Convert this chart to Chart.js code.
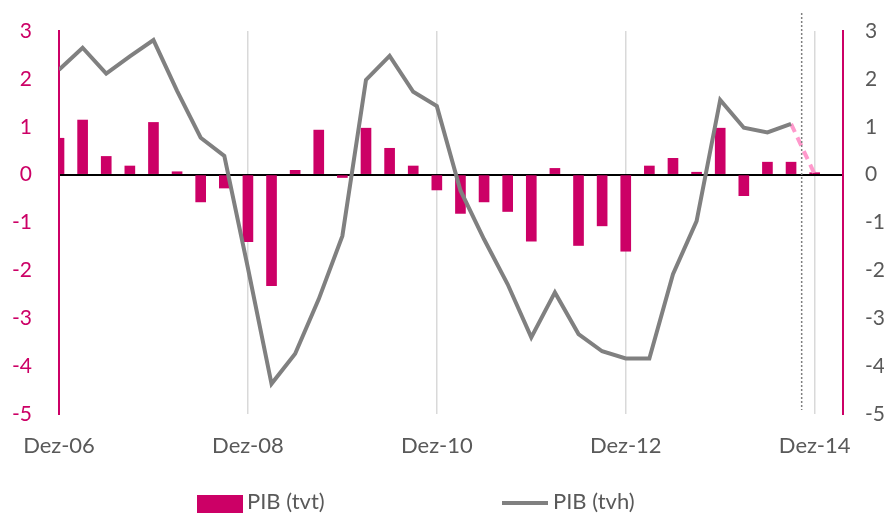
<!DOCTYPE html>
<html lang="pt">

<head>
    <meta charset="UTF-8">
    <title>PIB</title>
    <style>
        body { margin: 0; background: #fff; }
        #wrap { position: relative; width: 884px; height: 513px; overflow: hidden; font-family: Lato, sans-serif; color: #595959; }
        .leg { position: absolute; font-size: 22px; line-height: 22px; white-space: nowrap; }
    </style>
</head>

<body>
    <div id="wrap">
        <canvas id="pib-chart" width="884" height="513"></canvas>
        <div class="leg" style="left:197px; top:495px; width:46px; height:18px; background:#cc0066;"></div>
        <div class="leg" style="left:247px; top:490px;">PIB (tvt)</div>
        <div class="leg" style="left:502px; top:501px; width:46px; height:4px; background:#808080;"></div>
        <div class="leg" style="left:553px; top:490px;">PIB (tvh)</div>
    </div>

    <script src="https://cdn.jsdelivr.net/npm/chart.js@4.4.1/dist/chart.umd.min.js"></script>

    <script>
        // trimestres, Dez-06 .. Dez-14
        const quarters = ['Dez-06', 'Mar-07', 'Jun-07', 'Set-07', 'Dez-07', 'Mar-08', 'Jun-08', 'Set-08',
            'Dez-08', 'Mar-09', 'Jun-09', 'Set-09', 'Dez-09', 'Mar-10', 'Jun-10', 'Set-10',
            'Dez-10', 'Mar-11', 'Jun-11', 'Set-11', 'Dez-11', 'Mar-12', 'Jun-12', 'Set-12',
            'Dez-12', 'Mar-13', 'Jun-13', 'Set-13', 'Dez-13', 'Mar-14', 'Jun-14', 'Set-14', 'Dez-14'];

        // variação em cadeia (barras)
        const pibTvt = [0.76, 1.14, 0.38, 0.18, 1.09, 0.06, -0.57, -0.28,
            -1.40, -2.32, 0.09, 0.93, -0.06, 0.97, 0.55, 0.18,
            -0.32, -0.81, -0.57, -0.77, -1.39, 0.13, -1.48, -1.07,
            -1.60, 0.18, 0.34, 0.05, 0.97, -0.44, 0.26, 0.26, 0.04];

        // variação homóloga (linha), até Set-14
        const pibTvh = [2.19, 2.65, 2.11, 2.47, 2.81, 1.75, 0.77, 0.39,
            -1.95, -4.37, -3.74, -2.60, -1.28, 1.98, 2.48, 1.73,
            1.43, -0.33, -1.35, -2.29, -3.40, -2.46, -3.33, -3.69,
            -3.84, -3.84, -2.08, -0.97, 1.56, 0.98, 0.88, 1.06];

        // projecção tracejada Set-14 -> Dez-14
        const pibTvhProj = [1.06, 0.01];

        const yTicks = [-5, -4, -3, -2, -1, 0, 1, 2, 3];
        const xTickEvery = 8;

        const pink = '#cc0066';
        const grey = '#595959';

        const projStart = pibTvh.length - 1;

        // linha vertical pontilhada entre Set-14 e Dez-14
        const dottedLine = {
            id: 'dottedLine',
            afterDatasetsDraw(chart) {
                const ctx = chart.ctx;
                const x = chart.scales.x.getPixelForValue(projStart + 0.45);
                ctx.save();
                ctx.strokeStyle = '#7f7f7f';
                ctx.lineWidth = 1.5;
                ctx.setLineDash([2, 2]);
                ctx.beginPath();
                ctx.moveTo(x, 13);
                ctx.lineTo(x, chart.chartArea.bottom - 4);
                ctx.stroke();
                ctx.restore();
            }
        };

        const tickFont = { family: 'Lato', size: 21 };

        // largura fixa dos eixos verticais, sem margem extra em cima/baixo
        const fixWidth = w => s => { s.width = w; s.paddingTop = 0; s.paddingBottom = 0; };

        new Chart(document.getElementById('pib-chart'), {
            type: 'bar',
            data: {
                datasets: [
                    {
                        type: 'line',
                        label: 'PIB (tvh)',
                        data: pibTvh.map((v, i) => ({ x: i, y: v })),
                        borderColor: '#808080',
                        borderWidth: 4,
                        pointRadius: 0,
                        tension: 0,
                        order: 0
                    },
                    {
                        type: 'line',
                        label: 'proj',
                        data: pibTvhProj.map((v, i) => ({ x: projStart + i, y: v })),
                        borderColor: '#ff99cc',
                        borderWidth: 4,
                        borderDash: [9, 6],
                        pointRadius: 0,
                        order: 0
                    },
                    {
                        label: 'PIB (tvt)',
                        data: pibTvt.map((v, i) => ({ x: i, y: v })),
                        backgroundColor: pink,
                        barThickness: 10,
                        order: 1
                    }
                ]
            },
            options: {
                responsive: false,
                animation: false,
                devicePixelRatio: 1,
                layout: { padding: { top: 31, left: 0, right: 0, bottom: 0 } },
                plugins: { legend: { display: false }, tooltip: { enabled: false } },
                scales: {
                    x: {
                        type: 'linear',
                        offset: false,
                        min: 0,
                        max: 33.2,
                        afterFit: s => { s.height = 99; },
                        afterBuildTicks: s => {
                            s.ticks = quarters.map((q, i) => ({ value: i })).filter(t => t.value % xTickEvery === 0);
                        },
                        ticks: {
                            callback: v => quarters[v],
                            color: grey,
                            font: { family: 'Lato', size: 22 },
                            padding: 19,
                            maxRotation: 0,
                            autoSkip: false
                        },
                        grid: {
                            offset: false,
                            color: c => (c.tick && c.tick.value === 0) ? 'rgba(0,0,0,0)' : '#d9d9d9',
                            lineWidth: 1.5,
                            drawTicks: false
                        },
                        border: { display: false }
                    },
                    y: {
                        position: 'left',
                        min: -5,
                        max: 3,
                        afterFit: fixWidth(59),
                        afterBuildTicks: s => { s.ticks = yTicks.map(v => ({ value: v })); },
                        ticks: { color: pink, font: tickFont, padding: 27 },
                        grid: {
                            color: c => (c.tick && c.tick.value === 0) ? '#000' : 'rgba(0,0,0,0)',
                            lineWidth: 2,
                            drawTicks: false
                        },
                        border: { color: pink, width: 2 }
                    },
                    y2: {
                        position: 'right',
                        min: -5,
                        max: 3,
                        afterFit: fixWidth(41),
                        afterBuildTicks: s => { s.ticks = yTicks.map(v => ({ value: v })); },
                        ticks: { color: grey, font: tickFont, padding: 22 },
                        grid: { display: false, drawTicks: false },
                        border: { color: pink, width: 2 }
                    }
                }
            },
            plugins: [dottedLine]
        });
    </script>
</body>

</html>
